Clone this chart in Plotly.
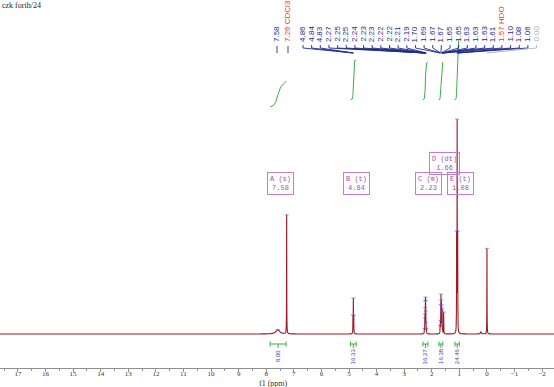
import numpy as np
import plotly.graph_objects as go

# ---------------- data ----------------
peak_ppm = [7.58, 7.26, 4.857, 4.843, 4.828,
            2.270, 2.253, 2.247, 2.238, 2.232, 2.227, 2.223, 2.217, 2.206, 2.190,
            1.700, 1.690, 1.674, 1.668, 1.654, 1.648, 1.634, 1.629, 1.626, 1.610,
            1.570, 1.100, 1.080, 1.060, 0.000]
peak_height = [2.0, 55.6, 7.5, 15.8, 7.5,
               2.0, 5.0, 6.0, 7.5, 9.0, 9.0, 8.0, 6.5, 4.0, 2.0,
               3.0, 5.0, 9.0, 15.0, 12.0, 9.0, 7.0, 6.0, 5.0, 3.0,
               10.0, 44.0, 97.0, 44.0, 40.0]
peak_hwhm = [0.08, 0.004, 0.004, 0.004, 0.004,
             0.0035, 0.0035, 0.0035, 0.0035, 0.0035, 0.0035, 0.0035, 0.0035, 0.0035, 0.0035,
             0.0035, 0.0035, 0.0035, 0.0035, 0.0035, 0.0035, 0.0035, 0.0035, 0.0035, 0.0035,
             0.005, 0.004, 0.004, 0.004, 0.004]
peak_tag = ["", "CDCl3", "", "", "",
            "", "", "", "", "", "", "", "", "", "",
            "", "", "", "", "", "", "", "", "", "",
            "HDO", "", "", "", ""]
minor_ppm = [0.22]
minor_height = [1.0]
minor_hwhm = [0.02]

mult_name = ["A (s)", "B (t)", "C (m)", "D (dt)", "E (t)"]
mult_shift = [7.58, 4.84, 2.23, 1.66, 1.08]

integral_from = [7.86, 4.95, 2.32, 1.74, 1.16]
integral_to = [7.28, 4.74, 2.14, 1.60, 1.00]
integral_value = ["8.00", "16.33", "16.27", "16.38", "24.46"]
integral_curve_start = [107, 100, 100, 100, 100]   # pixel heights of integral curve ends
integral_curve_end = [81, 60, 62, 62, 40]

x_ticks = list(range(17, -3, -1))

# ---------------- geometry helpers ----------------
W, H = 554, 387
XR = [17.65, -2.43]
BASE_PX, AXIS_PX, SCALE = 334, 368, 2.14
Y_BOT = (BASE_PX - AXIS_PX) / SCALE
Y_TOP = BASE_PX / SCALE


def py(pix):
    return (BASE_PX - pix) / SCALE


def px2ppm(pix):
    return XR[0] + pix / W * (XR[1] - XR[0])


# ---------------- spectrum ----------------
grid = np.sort(np.concatenate([np.linspace(XR[1], XR[0], 24000), np.array(peak_ppm)]))
spec = np.zeros_like(grid)
for c, h, w in zip(peak_ppm + minor_ppm, peak_height + minor_height, peak_hwhm + minor_hwhm):
    spec += h / (1 + ((grid - c) / w) ** 2)

fig = go.Figure()
fig.add_trace(go.Scatter(x=grid, y=spec, mode="lines",
                         line=dict(color="#9e1b22", width=1.1, simplify=False),
                         hoverinfo="skip", showlegend=False))

# peak top markers
top_y = np.interp(peak_ppm, grid, spec)
fig.add_trace(go.Scatter(x=peak_ppm, y=top_y, mode="markers",
                         marker=dict(color="rgba(90,90,220,0.5)", size=3, symbol="line-ew-open",
                                     line=dict(color="rgba(90,90,220,0.5)", width=1.2)),
                         hoverinfo="skip", showlegend=False))

# integral curves
for a, b, s, e in zip(integral_from, integral_to, integral_curve_start, integral_curve_end):
    m = (grid <= a) & (grid >= b)
    xs = grid[m][::-1]
    ys = spec[m][::-1]
    cum = np.concatenate([[0], np.cumsum(0.5 * (ys[1:] + ys[:-1]) * np.abs(np.diff(xs)))])
    cum = cum / cum[-1]
    fig.add_trace(go.Scatter(x=xs, y=py(s + (e - s) * cum), mode="lines",
                             line=dict(color="#3cb043", width=1), hoverinfo="skip", showlegend=False))

# peak labels and leader lines
label_px = [277, 288] + [303 + 8.65 * i for i in range(len(peak_ppm) - 2)]
annotations = []
lead_x, lead_y = [], []
grey_x, grey_y = [], []
for i, (p, tag) in enumerate(zip(peak_ppm, peak_tag)):
    lx = px2ppm(label_px[i])
    txt = f"{p:.2f}" + (f" {tag}" if tag else "")
    if tag:
        col = "#ff2a2a"
    elif p == 0:
        col = "#b0b0b0"
    else:
        col = "#1f2a8a"
    annotations.append(dict(x=lx, xref="x", y=1 - 44 / AXIS_PX, yref="paper", text=txt,
                            textangle=-90, showarrow=False, xanchor="center", yanchor="bottom",
                            font=dict(family="Liberation Sans, Arial", size=8, color=col)))
    if i < 2:
        xs_, ys_ = [lx, lx, None], [py(46), py(53), None]
    else:
        xs_, ys_ = [lx, lx, p, None], [py(45), py(48), py(53), None]
    if p == 0:
        grey_x += xs_
        grey_y += ys_
    else:
        lead_x += xs_
        lead_y += ys_

fig.add_trace(go.Scatter(x=lead_x, y=lead_y, mode="lines", line=dict(color="#1f2a8a", width=0.9),
                         hoverinfo="skip", showlegend=False, cliponaxis=False))
fig.add_trace(go.Scatter(x=grey_x, y=grey_y, mode="lines", line=dict(color="#b0b0b0", width=0.9),
                         hoverinfo="skip", showlegend=False, cliponaxis=False))

# multiplet boxes
for name, s in zip(mult_name, mult_shift):
    ypix = 163 if "D" in name else 183
    annotations.append(dict(x=s, xref="x", xshift=3, y=py(ypix), yref="y",
                            text=f"{name}<br>{s:.2f}", showarrow=False,
                            font=dict(family="Liberation Mono, monospace", size=7, color="#a050a8"),
                            bordercolor="#c47ccc", borderwidth=1, borderpad=2,
                            xanchor="center", yanchor="middle", align="center"))

# integral brackets + values
shapes = []
gcol = "#3cb043"
for a, b, v in zip(integral_from, integral_to, integral_value):
    mid = (a + b) / 2
    shapes.append(dict(type="line", xref="x", yref="y", x0=a, x1=b, y0=py(344), y1=py(344),
                       line=dict(color=gcol, width=1)))
    for e in (a, b):
        shapes.append(dict(type="line", xref="x", yref="y", x0=e, x1=e, y0=py(341.5), y1=py(346.5),
                           line=dict(color=gcol, width=1)))
    shapes.append(dict(type="line", xref="x", yref="y", x0=mid, x1=mid, y0=py(344), y1=py(348),
                       line=dict(color=gcol, width=1)))
    annotations.append(dict(x=mid, xref="x", y=py(356), yref="y", text=v, textangle=-90,
                            showarrow=False, xanchor="center", yanchor="middle",
                            font=dict(family="Liberation Sans, Arial", size=6, color="#3a3aa8")))

# top-left caption and axis title
annotations.append(dict(x=0, xref="paper", y=1 - 5 / AXIS_PX, yref="paper", text="czk forth/24",
                        showarrow=False, xanchor="left", yanchor="middle",
                        font=dict(family="Liberation Serif, serif", size=8, color="#222")))
annotations.append(dict(x=273 / W, xref="paper", y=1 - 383.5 / AXIS_PX, yref="paper", text="f1 (ppm)",
                        showarrow=False, xanchor="center", yanchor="middle",
                        font=dict(family="Liberation Serif, serif", size=8, color="#333")))

fig.update_layout(
    width=W, height=H,
    margin=dict(l=0, r=0, t=0, b=H - AXIS_PX),
    paper_bgcolor="white", plot_bgcolor="white",
    showlegend=False,
    annotations=annotations, shapes=shapes,
    xaxis=dict(range=XR, tickmode="array", tickvals=x_ticks,
               ticktext=[str(t).replace("-", "\u2212") for t in x_ticks],
               showgrid=False, zeroline=False, showline=True, linecolor="#909090", linewidth=1,
               ticks="outside", ticklen=3, tickcolor="#909090", ticklabelstandoff=-4,
               minor=dict(dtick=0.5, ticks="outside", ticklen=2, tickcolor="#909090", showgrid=False),
               tickfont=dict(family="Liberation Serif, serif", size=7, color="#333")),
    yaxis=dict(range=[Y_BOT, Y_TOP], visible=False, showgrid=False, zeroline=False),
)

fig.write_html("out.html", config={"displayModeBar": False},
               post_script="document.body.style.margin='0px';")
